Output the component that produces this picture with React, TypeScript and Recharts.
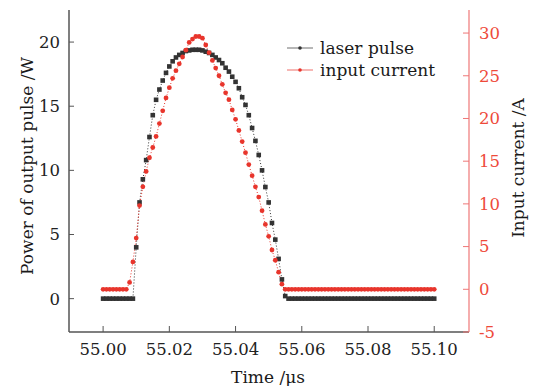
import React from 'react'
import { LineChart, Line, XAxis, YAxis } from 'recharts'

// sample times (µs), 1 ns step
const times = [
  55.000, 55.001, 55.002, 55.003, 55.004, 55.005, 55.006, 55.007, 55.008, 55.009,
  55.010, 55.011, 55.012, 55.013, 55.014, 55.015, 55.016, 55.017, 55.018, 55.019,
  55.020, 55.021, 55.022, 55.023, 55.024, 55.025, 55.026, 55.027, 55.028, 55.029,
  55.030, 55.031, 55.032, 55.033, 55.034, 55.035, 55.036, 55.037, 55.038, 55.039,
  55.040, 55.041, 55.042, 55.043, 55.044, 55.045, 55.046, 55.047, 55.048, 55.049,
  55.050, 55.051, 55.052, 55.053, 55.054, 55.055, 55.056, 55.057, 55.058, 55.059,
  55.060, 55.061, 55.062, 55.063, 55.064, 55.065, 55.066, 55.067, 55.068, 55.069,
  55.070, 55.071, 55.072, 55.073, 55.074, 55.075, 55.076, 55.077, 55.078, 55.079,
  55.080, 55.081, 55.082, 55.083, 55.084, 55.085, 55.086, 55.087, 55.088, 55.089,
  55.090, 55.091, 55.092, 55.093, 55.094, 55.095, 55.096, 55.097, 55.098, 55.099,
  55.100,
]

// output power (W)
const laserPulse = [
  0, 0, 0, 0, 0, 0, 0, 0, 0, 0,
  4.0, 7.5, 9.3, 10.8, 12.6, 14.3, 15.5, 16.3, 17.0, 17.6,
  18.1, 18.5, 18.8, 19.0, 19.15, 19.3, 19.35, 19.4, 19.4, 19.4,
  19.35, 19.25, 19.15, 19.0, 18.8, 18.6, 18.35, 18.0, 17.7, 17.3,
  16.9, 16.4, 15.7, 15.1, 14.3, 13.3, 12.3, 11.2, 10.0, 8.7,
  7.5, 5.9, 4.6, 3.1, 1.5, 0.2, 0, 0, 0, 0,
  0, 0, 0, 0, 0, 0, 0, 0, 0, 0,
  0, 0, 0, 0, 0, 0, 0, 0, 0, 0,
  0, 0, 0, 0, 0, 0, 0, 0, 0, 0,
  0, 0, 0, 0, 0, 0, 0, 0, 0, 0,
  0,
]

// input current (A)
const inputCurrent = [
  0, 0, 0, 0, 0, 0, 0, 0, 0.8, 3.2,
  6.0, 9.8, 12.0, 13.8, 15.4, 16.6, 17.9, 19.4, 20.9, 22.4,
  23.6, 24.7, 25.6, 26.4, 27.2, 28.0, 28.9, 29.3, 29.6, 29.6,
  29.4, 28.6, 27.7, 26.8, 25.9, 25.0, 24.0, 23.0, 22.2, 21.0,
  19.9, 18.6, 17.3, 16.0, 14.6, 13.3, 12.0, 10.8, 9.2, 7.6,
  6.2, 4.6, 3.4, 2.0, 0.6, 0, 0, 0, 0, 0,
  0, 0, 0, 0, 0, 0, 0, 0, 0, 0,
  0, 0, 0, 0, 0, 0, 0, 0, 0, 0,
  0, 0, 0, 0, 0, 0, 0, 0, 0, 0,
  0, 0, 0, 0, 0, 0, 0, 0, 0, 0,
  0,
]

const timeTicks = [55.0, 55.02, 55.04, 55.06, 55.08, 55.1]
const powerTicks = [0, 5, 10, 15, 20]
const currentTicks = [-5, 0, 5, 10, 15, 20, 25, 30]
const seriesNames = ['laser pulse', 'input current']

const data = times.map((t, i) => ({ time: t, laser: laserPulse[i], current: inputCurrent[i] }))

const FONT = '"DejaVu Serif", "Liberation Serif", serif'
const BLACK = '#333333'
const RED = '#e8352c'
const TIME_DOMAIN = [54.9897, 55.1105]

const SquareDot = (props: any) => {
  const { cx, cy, index } = props
  if (cx == null || cy == null) return <g key={`sq-${index}`} />
  return <rect key={`sq-${index}`} x={cx - 2.3} y={cy - 2.3} width={4.6} height={4.6} fill={BLACK} />
}

const LegendBox = () => (
  <div
    style={{
      position: 'absolute',
      left: 286,
      top: 37,
      fontFamily: FONT,
      fontSize: 17,
      color: '#1a1a1a',
      lineHeight: '22px',
    }}
  >
    {seriesNames.map((name, i) => {
      const color = i === 0 ? BLACK : RED
      return (
        <div key={name} style={{ display: 'flex', alignItems: 'center' }}>
          <svg width={32} height={10} style={{ marginRight: 2 }}>
            <line x1={1} y1={5} x2={27} y2={5} stroke={color} strokeWidth={1} opacity={0.7} />
            <circle cx={14} cy={5} r={1.8} fill={color} />
          </svg>
          <span>{name}</span>
        </div>
      )
    })}
  </div>
)

export default function App() {
  return (
    <div style={{ position: 'absolute', left: 0, top: 0, width: 540, height: 386, background: '#fff' }}>
      <LineChart width={540} height={386} data={data} margin={{ top: 10, right: 0, bottom: 0, left: 0 }}>
        <XAxis
          dataKey="time"
          type="number"
          domain={TIME_DOMAIN}
          allowDataOverflow
          ticks={timeTicks}
          interval={0}
          tickFormatter={(v: number) => v.toFixed(2)}
          tickSize={-6}
          tickMargin={17}
          height={54}
          axisLine={{ stroke: '#555', strokeWidth: 1.5 }}
          tickLine={{ stroke: '#555' }}
          tick={{ fill: '#222', fontSize: 16.5, fontFamily: FONT }}
        />
        <XAxis
          xAxisId="top"
          orientation="top"
          type="number"
          domain={TIME_DOMAIN}
          allowDataOverflow
          height={0}
          tick={false}
          tickLine={false}
          axisLine={{ stroke: '#999', strokeWidth: 1.5 }}
        />
        <YAxis
          yAxisId="left"
          domain={[-2.6, 22.5]}
          allowDataOverflow
          ticks={powerTicks}
          interval={0}
          width={69}
          tickSize={-5}
          tickMargin={14}
          axisLine={{ stroke: '#555', strokeWidth: 1.5 }}
          tickLine={{ stroke: '#555' }}
          tick={{ fill: '#222', fontSize: 16.5, fontFamily: FONT }}
        />
        <YAxis
          yAxisId="right"
          orientation="right"
          domain={[-5, 32.7]}
          allowDataOverflow
          ticks={currentTicks}
          interval={0}
          width={71}
          tickSize={-6}
          tickMargin={16}
          axisLine={{ stroke: '#e77', strokeWidth: 1.2 }}
          tickLine={{ stroke: '#e77' }}
          tick={{ fill: '#ee4a3a', fontSize: 16.5, fontFamily: FONT }}
        />
        <Line
          yAxisId="left"
          dataKey="laser"
          name={seriesNames[0]}
          type="linear"
          stroke={BLACK}
          strokeWidth={1}
          strokeDasharray="1 2"
          dot={SquareDot}
          activeDot={false}
          isAnimationActive={false}
        />
        <Line
          yAxisId="right"
          dataKey="current"
          name={seriesNames[1]}
          type="linear"
          stroke={RED}
          strokeWidth={1}
          strokeDasharray="1 2"
          dot={{ r: 2.4, fill: RED, stroke: 'none' }}
          activeDot={false}
          isAnimationActive={false}
        />
      </LineChart>
      <LegendBox />
      <svg
        width={540}
        height={386}
        style={{ position: 'absolute', left: 0, top: 0, pointerEvents: 'none' }}
      >
        <text
          x={27}
          y={166}
          transform="rotate(-90 27 166)"
          textAnchor="middle"
          dominantBaseline="central"
          fontFamily={FONT}
          fontSize={17}
          fill="#1a1a1a"
        >
          Power of output pulse /W
        </text>
        <text
          x={518}
          y={168}
          transform="rotate(-90 518 168)"
          textAnchor="middle"
          dominantBaseline="central"
          fontFamily={FONT}
          fontSize={17}
          fill="#1a1a1a"
        >
          Input current /A
        </text>
        <text
          x={268}
          y={377}
          textAnchor="middle"
          dominantBaseline="central"
          fontFamily={FONT}
          fontSize={17}
          fill="#1a1a1a"
        >
          Time /μs
        </text>
      </svg>
    </div>
  )
}
